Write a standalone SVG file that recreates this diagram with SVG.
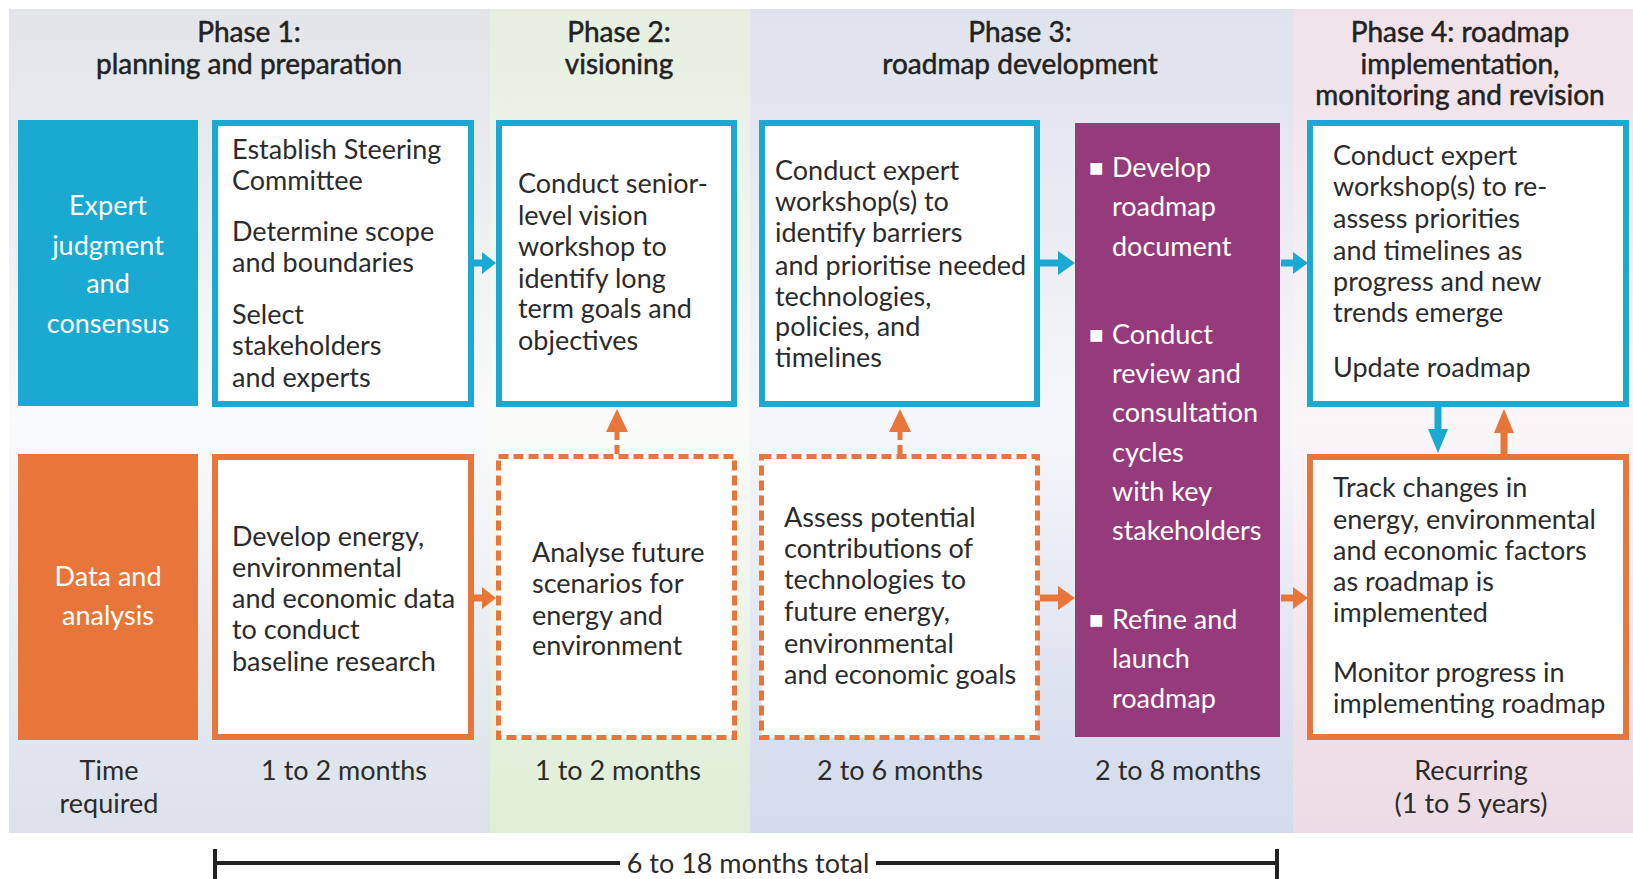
<svg xmlns="http://www.w3.org/2000/svg" width="1633" height="879" viewBox="0 0 1633 879">
<defs>
<linearGradient id="g1" x1="0" y1="0" x2="0" y2="1"><stop offset="0" stop-color="#e3e5e9"/><stop offset="0.12" stop-color="#e6e8ec"/><stop offset="0.5" stop-color="#fafbfc"/><stop offset="0.88" stop-color="#e2e6ee"/><stop offset="1" stop-color="#dde2ea"/></linearGradient>
<linearGradient id="g2" x1="0" y1="0" x2="0" y2="1"><stop offset="0" stop-color="#e6efe1"/><stop offset="0.12" stop-color="#eaf1e6"/><stop offset="0.5" stop-color="#fbfcfa"/><stop offset="0.88" stop-color="#e4f0dc"/><stop offset="1" stop-color="#dfeed6"/></linearGradient>
<linearGradient id="g3" x1="0" y1="0" x2="0" y2="1"><stop offset="0" stop-color="#dfe3ec"/><stop offset="0.12" stop-color="#e3e6ef"/><stop offset="0.5" stop-color="#f6f7fa"/><stop offset="0.88" stop-color="#d9dfee"/><stop offset="1" stop-color="#d4dbec"/></linearGradient>
<linearGradient id="g4" x1="0" y1="0" x2="0" y2="1"><stop offset="0" stop-color="#efe2e9"/><stop offset="0.12" stop-color="#f1e5eb"/><stop offset="0.5" stop-color="#fbf7f9"/><stop offset="0.88" stop-color="#efe0e8"/><stop offset="1" stop-color="#ecdce5"/></linearGradient>
</defs>
<style>
text{font-family:Lato,"Liberation Sans",sans-serif;font-size:27px;fill:#2b2b2b}
.hd{fill:#222222;text-anchor:middle;font-size:28px;stroke:#222222;stroke-width:0.5}
.w{fill:#ffffff}
.c{text-anchor:middle}
.bul{font-size:24px}
.tb{fill:#ffffff;stroke:#1aa9d0;stroke-width:6}
.ob{fill:#ffffff;stroke:#e8763a;stroke-width:6}
.od{fill:#ffffff;stroke:#e8763a;stroke-width:5;stroke-dasharray:10 5}
.ta{fill:#1aa9d0}
.oa{fill:#e8763a}
.tl{stroke:#1aa9d0;stroke-width:7;fill:none}
.ol{stroke:#e8763a;stroke-width:7;fill:none}
.old{stroke:#e8763a;stroke-width:5;fill:none;stroke-dasharray:9 5}
.blk{stroke:#222;stroke-width:4;fill:none}
</style>
<g id="background">
<rect x="9" y="9" width="481" height="824" fill="url(#g1)"/>
<rect x="490" y="9" width="260" height="824" fill="url(#g2)"/>
<rect x="750" y="9" width="543" height="824" fill="url(#g3)"/>
<rect x="1293" y="9" width="340" height="824" fill="url(#g4)"/>
</g>
<g id="headers">
<text class="hd" x="249" y="42">Phase 1:</text>
<text class="hd" x="249" y="74">planning and preparation</text>
<text class="hd" x="619" y="42">Phase 2:</text>
<text class="hd" x="619" y="74">visioning</text>
<text class="hd" x="1020" y="42">Phase 3:</text>
<text class="hd" x="1020" y="74">roadmap development</text>
<text class="hd" x="1460" y="42">Phase 4: roadmap</text>
<text class="hd" x="1460" y="74">implementation,</text>
<text class="hd" x="1460" y="105">monitoring and revision</text>
</g>
<g id="label-expert">
<rect x="18" y="120" width="180" height="286" fill="#1aa9d0"/>
<text class="w c" x="108" y="215">Expert</text>
<text class="w c" x="108" y="255">judgment</text>
<text class="w c" x="108" y="293">and</text>
<text class="w c" x="108" y="333">consensus</text>
</g>
<g id="label-data">
<rect x="18" y="454" width="180" height="286" fill="#e8763a"/>
<text class="w c" x="108" y="586">Data and</text>
<text class="w c" x="108" y="625">analysis</text>
</g>
<g id="p1-expert">
<rect class="tb" x="215" y="123" width="256" height="281"/>
<text x="232" y="159">Establish Steering</text>
<text x="232" y="190">Committee</text>
<text x="232" y="241">Determine scope</text>
<text x="232" y="272">and boundaries</text>
<text x="232" y="324">Select</text>
<text x="232" y="355">stakeholders</text>
<text x="232" y="387">and experts</text>
</g>
<g id="p2-expert">
<rect class="tb" x="499" y="123" width="235" height="281"/>
<text x="518" y="193">Conduct senior-</text>
<text x="518" y="225">level vision</text>
<text x="518" y="256">workshop to</text>
<text x="518" y="288">identify long</text>
<text x="518" y="318">term goals and</text>
<text x="518" y="350">objectives</text>
</g>
<g id="p3-expert">
<rect class="tb" x="762" y="123" width="275" height="281"/>
<text x="775" y="180">Conduct expert</text>
<text x="775" y="211">workshop(s) to</text>
<text x="775" y="242">identify barriers</text>
<text x="775" y="275">and prioritise needed</text>
<text x="775" y="306">technologies,</text>
<text x="775" y="336">policies, and</text>
<text x="775" y="367">timelines</text>
</g>
<g id="p3-roadmap">
<rect x="1075" y="123" width="205" height="614" fill="#953b7c"/>
<text class="w" x="1089" y="176"><tspan class="bul">■</tspan><tspan x="1112" y="177">Develop</tspan></text>
<text class="w" x="1112" y="216">roadmap</text>
<text class="w" x="1112" y="256">document</text>
<text class="w" x="1089" y="343"><tspan class="bul">■</tspan><tspan x="1112" y="344">Conduct</tspan></text>
<text class="w" x="1112" y="383">review and</text>
<text class="w" x="1112" y="422">consultation</text>
<text class="w" x="1112" y="462">cycles</text>
<text class="w" x="1112" y="501">with key</text>
<text class="w" x="1112" y="540">stakeholders</text>
<text class="w" x="1089" y="628"><tspan class="bul">■</tspan><tspan x="1112" y="629">Refine and</tspan></text>
<text class="w" x="1112" y="668">launch</text>
<text class="w" x="1112" y="708">roadmap</text>
</g>
<g id="p4-expert">
<rect class="tb" x="1310" y="123" width="316" height="281"/>
<text x="1333" y="165">Conduct expert</text>
<text x="1333" y="196">workshop(s) to re-</text>
<text x="1333" y="228">assess priorities</text>
<text x="1333" y="260">and timelines as</text>
<text x="1333" y="291">progress and new</text>
<text x="1333" y="322">trends emerge</text>
<text x="1333" y="377">Update roadmap</text>
</g>
<g id="p1-data">
<rect class="ob" x="215" y="457" width="256" height="280"/>
<text x="232" y="546">Develop energy,</text>
<text x="232" y="577">environmental</text>
<text x="232" y="608">and economic data</text>
<text x="232" y="639">to conduct</text>
<text x="232" y="671">baseline research</text>
</g>
<g id="p2-data">
<rect class="od" x="498.5" y="456.5" width="236" height="281"/>
<text x="532" y="562">Analyse future</text>
<text x="532" y="593">scenarios for</text>
<text x="532" y="625">energy and</text>
<text x="532" y="655">environment</text>
</g>
<g id="p3-data">
<rect class="od" x="761.5" y="456.5" width="276" height="281"/>
<text x="784" y="527">Assess potential</text>
<text x="784" y="558">contributions of</text>
<text x="784" y="589">technologies to</text>
<text x="784" y="621">future energy,</text>
<text x="784" y="653">environmental</text>
<text x="784" y="684">and economic goals</text>
</g>
<g id="p4-data">
<rect class="ob" x="1310" y="457" width="316" height="280"/>
<text x="1333" y="497">Track changes in</text>
<text x="1333" y="529">energy, environmental</text>
<text x="1333" y="560">and economic factors</text>
<text x="1333" y="591">as roadmap is</text>
<text x="1333" y="622">implemented</text>
<text x="1333" y="682">Monitor progress in</text>
<text x="1333" y="713">implementing roadmap</text>
</g>
<g id="connectors">
<line class="tl" x1="474" y1="263" x2="484" y2="263"/><polygon class="ta" points="482,252 496,263 482,274"/>
<line class="tl" x1="1040" y1="263" x2="1060" y2="263"/><polygon class="ta" points="1058,251 1075,263 1058,275"/>
<line class="tl" x1="1281" y1="263" x2="1295" y2="263"/><polygon class="ta" points="1293,252 1308,263 1293,274"/>
<line class="ol" x1="474" y1="598" x2="484" y2="598"/><polygon class="oa" points="482,587 496,598 482,609"/>
<line class="ol" x1="1040" y1="598" x2="1060" y2="598"/><polygon class="oa" points="1058,586 1075,598 1058,610"/>
<line class="ol" x1="1281" y1="598" x2="1295" y2="598"/><polygon class="oa" points="1293,587 1308,598 1293,609"/>
<line class="old" x1="617" y1="454" x2="617" y2="430"/><polygon class="oa" points="606,432 617,409 628,432"/>
<line class="old" x1="900" y1="454" x2="900" y2="430"/><polygon class="oa" points="889,432 900,409 911,432"/>
<line class="tl" x1="1438" y1="407" x2="1438" y2="432"/><polygon class="ta" points="1428,429 1438,453 1448,429"/>
<line class="ol" x1="1504" y1="454" x2="1504" y2="430"/><polygon class="oa" points="1494,433 1504,409 1514,433"/>
</g>
<g id="time-row">
<text class="c" x="109" y="780">Time</text>
<text class="c" x="109" y="813">required</text>
<text class="c" x="344" y="780">1 to 2 months</text>
<text class="c" x="618" y="780">1 to 2 months</text>
<text class="c" x="900" y="780">2 to 6 months</text>
<text class="c" x="1178" y="780">2 to 8 months</text>
<text class="c" x="1471" y="780">Recurring</text>
<text class="c" x="1471" y="813">(1 to 5 years)</text>
</g>
<g id="timeline">
<line class="blk" x1="215" y1="863" x2="620" y2="863"/>
<line class="blk" x1="876" y1="863" x2="1277" y2="863"/>
<line class="blk" x1="215" y1="849" x2="215" y2="879"/>
<line class="blk" x1="1277" y1="849" x2="1277" y2="879"/>
<text class="c" x="748" y="873">6 to 18 months total</text>
</g>
</svg>
